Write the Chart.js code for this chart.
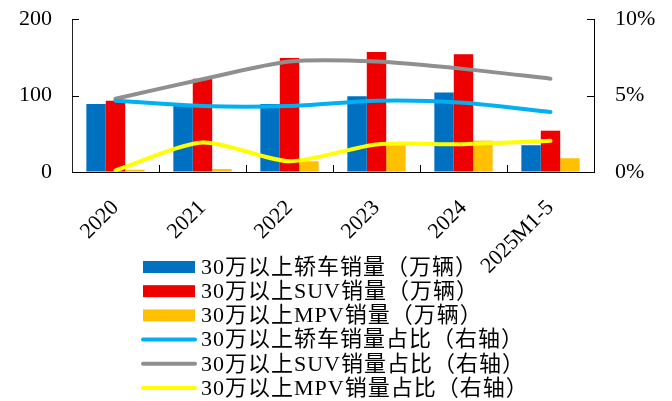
<!DOCTYPE html>
<html>
<head>
<meta charset="utf-8">
<script src="https://cdn.jsdelivr.net/npm/chart.js@4/dist/chart.umd.min.js"></script>
<style>
  html, body { margin: 0; padding: 0; background: #ffffff; }
  #wrap { width: 672px; height: 401px; }
</style>
</head>
<body>
<div id="wrap"><canvas id="c" width="672" height="401"></canvas></div>
<script>
// Categories and series
const categories = ['2020', '2021', '2022', '2023', '2024', '2025M1-5'];
const sedanSales = [89, 88, 89, 99, 104, 35];      // 万辆
const suvSales   = [93, 122, 149, 157, 154, 54];   // 万辆
const mpvSales   = [3, 4, 14, 38, 41, 18];         // 万辆
const sedanShare = [4.66, 4.31, 4.31, 4.66, 4.53, 3.92]; // %
const suvShare   = [4.79, 6.06, 7.22, 7.22, 6.74, 6.10]; // %
const mpvShare   = [0.11, 1.93, 0.70, 1.80, 1.82, 2.04]; // %
const leftTicks  = [0, 100, 200];
const rightTicks = [0, 5, 10];
const seriesNames = [
  '30万以上轿车销量（万辆）',
  '30万以上SUV销量（万辆）',
  '30万以上MPV销量（万辆）',
  '30万以上轿车销量占比（右轴）',
  '30万以上SUV销量占比（右轴）',
  '30万以上MPV销量占比（右轴）'
];

const SERIF = "'Liberation Serif', 'Times New Roman', serif";
const LEGEND_FONT = "22px 'Liberation Serif', 'Noto Sans CJK SC', serif";

// Short inward tick marks on all three axes
const tickMarks = {
  id: 'tickMarks',
  afterDatasetsDraw(chart) {
    const ctx = chart.ctx;
    const x = chart.scales.x, yl = chart.scales.y, yr = chart.scales.y1;
    const a = chart.chartArea;
    ctx.save();
    ctx.strokeStyle = '#000';
    ctx.lineWidth = 1;
    ctx.beginPath();
    for (let i = 0; i < categories.length - 1; i++) {
      const px = Math.round((x.getPixelForValue(i) + x.getPixelForValue(i + 1)) / 2) + 0.5;
      ctx.moveTo(px, a.bottom);
      ctx.lineTo(px, a.bottom - 7);
    }
    leftTicks.forEach(v => {
      const py = Math.round(yl.getPixelForValue(v)) + 0.5;
      ctx.moveTo(a.left, py);
      ctx.lineTo(a.left + 7, py);
    });
    rightTicks.forEach(v => {
      const py = Math.round(yr.getPixelForValue(v)) + 0.5;
      ctx.moveTo(a.right, py);
      ctx.lineTo(a.right - 7, py);
    });
    ctx.stroke();
    ctx.restore();
  }
};

// Single-column legend below the axis
const columnLegend = {
  id: 'columnLegend',
  afterDraw(chart) {
    const ctx = chart.ctx;
    const x0 = 143, w = 52, textX = 201, top = 267, step = 24.2;
    ctx.save();
    ctx.font = LEGEND_FONT;
    ctx.textBaseline = 'middle';
    ctx.textAlign = 'left';
    try { ctx.letterSpacing = '1px'; } catch (e) {}
    chart.data.datasets.forEach((ds, row) => {
      const cy = top + row * step;
      if (ds.type === 'bar') {
        ctx.fillStyle = ds.backgroundColor;
        ctx.fillRect(x0, cy - 6, w, 12);
      } else {
        ctx.strokeStyle = ds.borderColor;
        ctx.lineWidth = 4;
        ctx.lineCap = 'round';
        ctx.beginPath();
        ctx.moveTo(x0, cy);
        ctx.lineTo(x0 + w, cy);
        ctx.stroke();
      }
      ctx.fillStyle = '#000';
      ctx.fillText(ds.label, textX, cy + 1);
    });
    ctx.restore();
  }
};

const lineDs = (label, data, color) => ({
  type: 'line', label, data, yAxisID: 'y1',
  borderColor: color, backgroundColor: color, borderWidth: 4,
  pointRadius: 0, tension: 0.25, fill: false, order: 0,
  borderCapStyle: 'round'
});
const barDs = (label, data, color) => ({
  type: 'bar', label, data, yAxisID: 'y',
  backgroundColor: color, borderWidth: 0, order: 1,
  categoryPercentage: 0.67, barPercentage: 1.0
});

// Invisible outer tick space keeps the value labels away from the axis lines
const hiddenGrid = len => ({
  display: true, drawOnChartArea: false, drawTicks: true,
  tickLength: len, tickColor: 'rgba(0,0,0,0)'
});

new Chart(document.getElementById('c'), {
  data: {
    labels: categories,
    datasets: [
      barDs(seriesNames[0], sedanSales, '#0070C0'),
      barDs(seriesNames[1], suvSales, '#EE0000'),
      barDs(seriesNames[2], mpvSales, '#FFC000'),
      lineDs(seriesNames[3], sedanShare, '#00B0F0'),
      lineDs(seriesNames[4], suvShare, '#8F8F8F'),
      lineDs(seriesNames[5], mpvShare, '#FFFF00')
    ]
  },
  options: {
    responsive: false,
    animation: false,
    devicePixelRatio: 1,
    layout: { padding: { top: 19, left: 0, right: 0, bottom: 0 } },
    plugins: {
      legend: { display: false },
      tooltip: { enabled: false }
    },
    scales: {
      x: {
        grid: hiddenGrid(23),
        border: { display: true, color: '#000', width: 1 },
        ticks: {
          color: '#000', font: { family: SERIF, size: 22 },
          minRotation: 45, maxRotation: 45, padding: 0, autoSkip: false
        },
        afterFit(s) { s.height = 229; }
      },
      y: {
        position: 'left', min: 0, max: 200,
        grid: hiddenGrid(20),
        border: { display: true, color: '#222', width: 1 },
        ticks: { color: '#000', font: { family: SERIF, size: 22 }, padding: 0 },
        afterBuildTicks(s) { s.ticks = leftTicks.map(v => ({ value: v })); },
        afterFit(s) { s.width = 72; }
      },
      y1: {
        position: 'right', min: 0, max: 10,
        grid: hiddenGrid(21),
        border: { display: true, color: '#000', width: 1 },
        ticks: {
          color: '#000', font: { family: SERIF, size: 22 }, padding: 0,
          callback: v => v + '%'
        },
        afterBuildTicks(s) { s.ticks = rightTicks.map(v => ({ value: v })); },
        afterFit(s) { s.width = 78; }
      }
    }
  },
  plugins: [tickMarks, columnLegend]
});
</script>
</body>
</html>
